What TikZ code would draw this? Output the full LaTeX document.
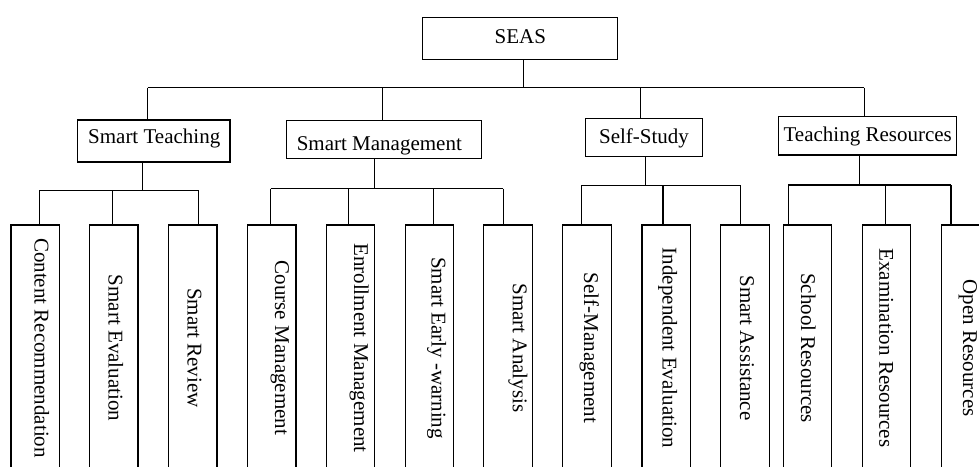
\documentclass[tikz,border=0pt]{standalone}
\usepackage{fontspec}
\setmainfont{Liberation Serif}
\begin{document}
\begin{tikzpicture}[x=1pt,y=-1pt,line width=1.1pt,
  box/.style={draw,rectangle,inner sep=0pt},
  leaf/.style={box,minimum width=48.5pt,minimum height=255pt},
  lbl/.style={font=\fontsize{21}{25}\selectfont,inner sep=0pt,anchor=base},
  vlbl/.style={lbl,rotate=-90}]
\useasboundingbox (0,0) rectangle (979,466);
\clip (0,0) rectangle (979,466);

% root
\node[box,minimum width=194.6pt,minimum height=41.7pt] (seas) at (520,38.2) {};
\node[lbl] (seast) at (520.3,43.3) {SEAS};

% second level
\node[box,minimum width=152.3pt,minimum height=42pt] (st) at (153.85,141) {};
\node[lbl] (stt) at (154.2,143.3) {Smart Teaching};
\node[box,minimum width=195pt,minimum height=38pt] (sm) at (384.2,139.7) {};
\node[lbl] (smt) at (379.3,150.7) {Smart Management};
\node[box,minimum width=117pt,minimum height=38.3pt] (ss) at (643.8,137.2) {};
\node[lbl] (sst) at (644,143.3) {Self-Study};
\node[box,minimum width=177.7pt,minimum height=38.3pt] (tr) at (867.2,135.8) {};
\node[lbl] (trt) at (867.7,141.7) {Teaching Resources};

% leaves
\node[leaf] (l1) at (35.2,352.5) {};
\node[vlbl] at (34.7,348) {Content Recommendation};
\node[leaf] (l2) at (113.7,352.5) {};
\node[vlbl] at (108.7,348) {Smart Evaluation};
\node[leaf] (l3) at (192.7,352.5) {};
\node[vlbl] at (187.5,348) {Smart Review};
\node[leaf] (l4) at (271.7,352.5) {};
\node[vlbl] at (275,348) {Course Management};
\node[leaf] (l5) at (350.3,352.5) {};
\node[vlbl] at (354.2,348) {Enrollment Management};
\node[leaf] (l6) at (429.3,352.5) {};
\node[vlbl] at (431.5,348) {Smart Early -warning};
\node[leaf] (l7) at (508,352.5) {};
\node[vlbl] at (512.8,348) {Smart Analysis};
\node[leaf] (l8) at (587,352.5) {};
\node[vlbl] at (584,348) {Self-Management};
\node[leaf] (l9) at (666.2,352.5) {};
\node[vlbl] at (662.5,348) {Independent Evaluation};
\node[leaf] (l10) at (745,352.5) {};
\node[vlbl] at (740,348) {Smart Assistance};
\node[leaf] (l11) at (807.3,352.5) {};
\node[vlbl] at (801,348) {School Resources};
\node[leaf] (l12) at (886.3,352.5) {};
\node[vlbl] at (879.3,348) {Examination Resources};
\node[leaf] (l13) at (965.3,352.5) {};
\node[vlbl] at (963,348) {Open Resources};

% top bus
\coordinate (tb) at (523.3,87.5);
\coordinate (t1) at (147.7,87.5);
\coordinate (t2) at (382.7,87.5);
\coordinate (t3) at (640.7,87.5);
\coordinate (t4) at (864.3,87.5);
\draw (tb |- seas.south) -- (tb);
\draw (t1) -- (t4);
\draw (t1) -- (t1 |- st.north);
\draw (t2) -- (t2 |- sm.north);
\draw (t3) -- (t3 |- ss.north);
\draw (t4) -- (t4 |- tr.north);

% Smart Teaching bus
\coordinate (stb) at (142.7,190.7);
\coordinate (a1) at (39.3,190.7);
\coordinate (a2) at (112.7,190.7);
\coordinate (a3) at (198.7,190.7);
\draw (stb |- st.south) -- (stb);
\draw (a1) -- (a3);
\draw (a1) -- (a1 |- l1.north);
\draw (a2) -- (a2 |- l2.north);
\draw (a3) -- (a3 |- l3.north);

% Smart Management bus
\coordinate (smb) at (374.7,188.7);
\coordinate (b1) at (270.7,188.7);
\coordinate (b2) at (348.7,188.7);
\coordinate (b3) at (433.3,188.7);
\coordinate (b4) at (503.3,188.7);
\draw (smb |- sm.south) -- (smb);
\draw (b1) -- (b4);
\draw (b1) -- (b1 |- l4.north);
\draw (b2) -- (b2 |- l5.north);
\draw (b3) -- (b3 |- l6.north);
\draw (b4) -- (b4 |- l7.north);

% Self-Study bus
\coordinate (ssb) at (645.3,185.3);
\coordinate (c1) at (581.7,185.3);
\coordinate (c2) at (663,185.3);
\coordinate (c3) at (740.7,185.3);
\draw (ssb |- ss.south) -- (ssb);
\draw (c1) -- (c3);
\draw (c1) -- (c1 |- l8.north);
\draw (c2) -- (c2 |- l9.north);
\draw (c3) -- (c3 |- l10.north);

% Teaching Resources bus
\coordinate (trb) at (859.3,185);
\coordinate (e1) at (788.3,185);
\coordinate (e2) at (885.3,185);
\coordinate (e3) at (951,185);
\draw (trb |- tr.south) -- (trb);
\draw (e1) -- (e3);
\draw (e1) -- (e1 |- l11.north);
\draw (e2) -- (e2 |- l12.north);
\draw (e3) -- (e3 |- l13.north);
\end{tikzpicture}
\end{document}
